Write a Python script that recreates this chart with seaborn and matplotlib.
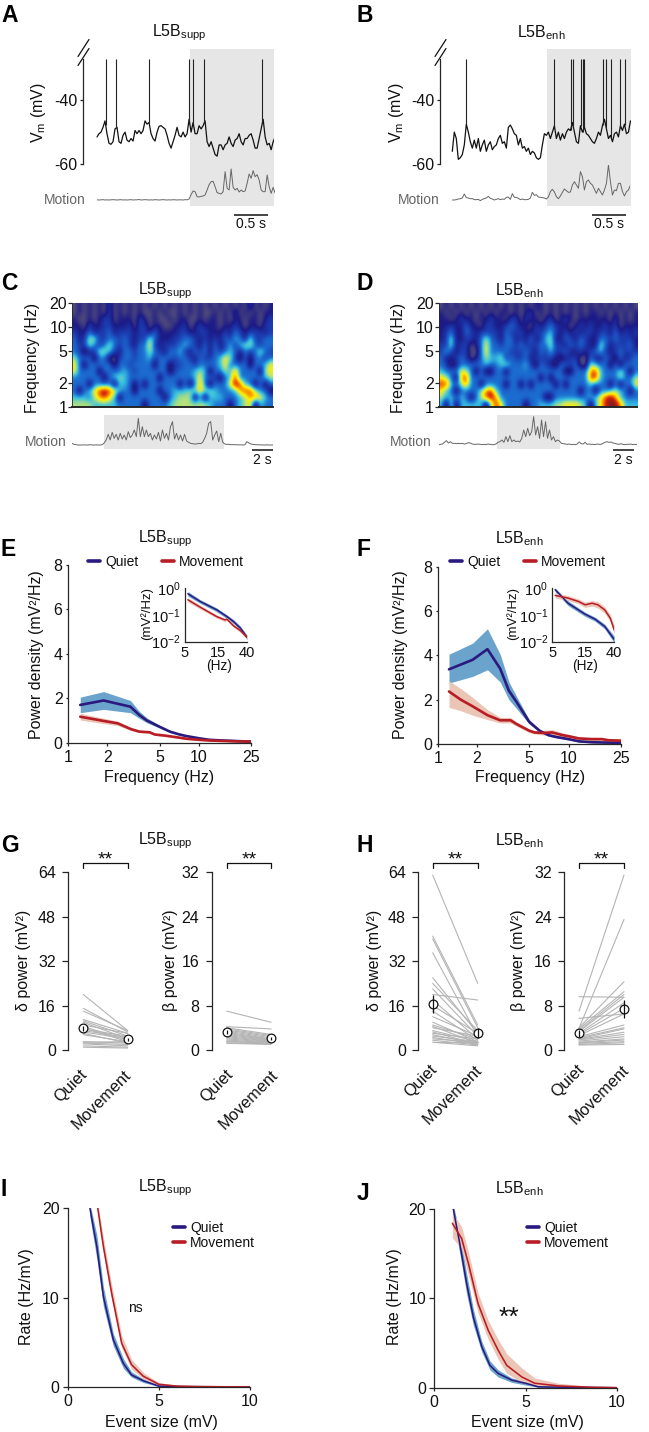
import numpy as np, pandas as pd
import matplotlib
matplotlib.use("Agg")
import matplotlib.pyplot as plt
import seaborn as sns
from matplotlib.lines import Line2D
from matplotlib.colors import LinearSegmentedColormap
from matplotlib.transforms import blended_transform_factory as blend, ScaledTranslation

# ---------------- data ----------------
vm_a = [-51.5,-50.5,-50,-48.5,-46.5,-50.5,-53.5,-53.8,-53,-49,-48.5,-53,-53.5,-51,-50,-52.5,-53,-52,-52.8,-49.5,-50.5,-49.5,-50.5,-49.5,-46.5,-47.5,-47,-50.5,-52,-52.8,-50,-48.2,-48,-48.5,-49,-51,-53.5,-55,-53,-51,-48.5,-51,-51.5,-50,-51.5,-50.5,-46,-50,-47,-50.5,-50.5,-48,-49,-48,-46.5,-53,-54.5,-53,-55,-57,-57.5,-54,-54,-55.5,-54,-53.5,-51.5,-53.5,-54.5,-52.5,-52,-50.5,-53,-54,-52,-52,-51,-50.5,-52.5,-55,-55,-52,-49,-46,-51.5,-54,-53.5,-55.5,-53,-51.5]
spikes_a = [0.127,0.275,0.76,1.348,1.417,1.578,2.431]
motion_a = [0.05,0,0.05,0.1,0,0.05,0,0.05,0.1,0.05,0,0.05,0.1,0,0.05,0,0.05,0.1,0,0.05,0.05,0.15,0,0.05,0.1,0.05,0,0.05,0,0.1,0.05,0,0.05,0.1,0.05,0,0.05,0,0.1,0.05,0,0.05,0.05,0,0.1,0.05,
            0.3,1.6,2.7,2.5,1.0,0.9,1.1,1.2,1.5,3.0,4.6,5.5,5.6,4.0,2.2,2.0,1.8,2.5,8.5,3.5,3.0,9.3,3.8,3.0,3.5,2.4,3,2.5,2.7,5,7.8,6.5,8.8,7,7.6,6,3,2.5,2.5,7.5,4,2,3.8,2.0]
vm_b = [-56,-50,-52,-58.5,-58,-57,-54,-47.5,-50,-53,-55,-52.5,-55,-52,-56,-54,-52.5,-56,-54,-53,-55.5,-54.5,-54,-52,-51,-53.5,-53,-55,-48.5,-47.8,-49,-50.5,-51,-54,-52,-55,-54.5,-56,-55,-57,-56,-56.5,-58,-58.5,-58,-54,-50.5,-51,-50,-52,-50,-48,-52,-50,-52.5,-50.5,-52,-50,-49,-49.5,-47,-50,-53,-53.5,-48,-50,-48.5,-50.5,-51,-52,-53,-53.5,-52,-50,-51,-48,-46,-49,-52,-51,-53,-50.5,-50,-51.5,-48,-49.5,-47.5,-50.5,-50,-46.5]
spikes_b = [0.206,1.495,1.74,1.78,1.887,1.917,1.941,2.211,2.265,2.338,2.466,2.534]
motion_b = [0,0,0.1,0.3,0.4,0.6,1.8,0.7,0.6,0.4,0.4,0.1,0.1,0.2,-0.2,0.2,0.4,0.6,1.1,0.5,0.3,0,0.2,0.4,0.1,0.3,0.2,0.8,0.9,0.2,1.9,0.8,0.8,0.5,0.1,0.3,0.1,0.1,0.2,0.6,2.3,1.4,1.6,0.9,0.8,0.7,0.6,0.3,0.9,2.5,3.2,2.4,1,0.4,1.2,2.3,3.3,2.8,2.3,2.4,4.5,5.5,4.5,3.5,8.5,7,3,5.5,6,5,4.5,3.2,2,3.5,2.5,1.5,3,5,10.5,5.5,1.5,3,2.8,5,5,2.5,1.2,2.5,3,4.5]
motion_c = [0.5,0.2,0.1,0,0,0,0.05,0,0,0.1,0,0,0.05,0,0,0.1,
            0.6,1.5,3.2,1.5,3.8,2.0,3.2,1.5,3.5,1.8,3.0,1.5,4.0,2.2,3.0,4.5,2.5,8.0,2.5,5.5,2.5,4.5,2.5,3.5,1.5,3.0,1.8,3.8,1.2,4.5,2.0,3.5,1.5,5.5,7.0,1.8,3.5,1.5,3.0,1.2,3.2,1.2,0.8,0.5,0.4,0.3,0.3,0.5,0.4,0.8,2.0,3.5,6.5,7.0,1.5,3.0,4.2,1.0,3.5,0.8,
            0.3,0.2,0.2,0.1,0.1,0.1,0.05,0.05,0.05,0.0,0.05,1.0,0.6,0.3,0.2,0.1,0.1,0.05,0.05,0,0,0.05,0,0,0]
motion_d = [0,0.2,0.3,0.8,1.3,0.6,1,0.5,0.5,0.4,0.5,0.4,0.5,0.3,0.4,0.7,0.6,0.3,0.2,0.2,0.3,0.2,0.1,0.2,0.1,0.3,0.2,0.1,0.1,0.3,
            0.8,1.0,1.5,0.8,2.5,1.0,2.8,1.0,1.5,1.0,1.2,0.9,2,4.5,2.5,5,2.8,4.0,8.5,3,5.5,2,7.5,2.5,7.0,2,4.5,1.5,2.5,1,1.5,1.2,0.5,
            0.4,0.3,0.2,0.3,0.1,0.2,0.1,0.3,0.9,0.4,0.3,0.8,0.2,0.3,0.2,0.2,0.1,0.3,0.2,0.2,0.5,0.8,1.0,0.8,0.9,0.6,0.5,0.3,0.2,0.4,0.2,0.1,0.2,0.2,0.3,0.1,0.2,0.1]

spec_c = ["0101010201 0101010101 0101010101 0101020101",
          "0101010201 0101001010 0101010010 1020101011",
          "1001012201 1102101001 0110010110 1011011012",
          "1102112211 1202201100 1120121110 1121011022",
          "2113122312 2212213111 1221122111 2132122212",
          "3125522332 3212253111 2233212121 3243152233",
          "3225323532 3213362122 2343213131 2424553233",
          "3201255421 3323353213 3421323132 3431323532",
          "5333033002 3323342333 2332132234 6520303323",
          "6303333303 3233330330 2233233334 6333303346",
          "6333303333 4323333330 2333454033 5473333056",
          "3333330345 4333333033 3333463320 3483333345",
          "3330333304 4303033333 3030373033 3698430303",
          "3034689864 3303333033 4445565543 3347885330",
          "4443578640 3333333303 4555040444 3334577643",
          "5555444443 3333033334 5555555433 3034560433"]
spec_d = ["0101010101 0101010101 1010101010 1010101010",
          "1010101010 1011010120 1010101010 1101010101",
          "1101211011 2110220211 0120121011 1111020101",
          "1121131102 2112321102 1232110121 2112120111",
          "1231132122 2213222112 2342121212 2122131212",
          "1251122135 3213312131 2451132132 1133232221",
          "2251220136 3323323222 3352213232 1153122231",
          "2421220036 3333222321 3242231121 2342123222",
          "3112320135 4452322312 2221012200 3113203123",
          "3201333334 3345333420 3210332300 5433030333",
          "4333653030 0330333333 3333300333 7843335303",
          "6530783333 3333333333 0303333333 8843335335",
          "8843573303 3330330303 3330303333 4333030336",
          "6430333357 8433333333 3333333303 3033454303",
          "5443430358 9733333333 3003333333 4468974333",
          "4050444440 5863333033 4445566654 0468997444"]
spec_ticks = [1, 2, 5, 10, 20]

f_e_q  = [1.24,1.87,3,3.5,4,5,6,7,8,10,12,15,20,25]
e_q    = [1.7,1.9,1.62,1.25,1.0,0.72,0.5,0.38,0.3,0.2,0.13,0.1,0.07,0.05]
e_q_lo = [1.35,1.5,1.35,1.1,0.9,0.66,0.46,0.35,0.27,0.18,0.11,0.08,0.05,0.03]
e_q_hi = [2.05,2.3,1.9,1.42,1.12,0.78,0.54,0.41,0.33,0.22,0.15,0.12,0.09,0.07]
f_e_m  = [1.24,1.87,2.4,3,3.5,4.2,4.6,5.5,6.5,8,10,12,15,20,25]
e_m    = [1.17,0.98,0.87,0.62,0.5,0.47,0.37,0.32,0.26,0.18,0.13,0.1,0.08,0.06,0.05]
e_m_lo = [1.02,0.86,0.77,0.55,0.45,0.42,0.33,0.28,0.22,0.14,0.1,0.08,0.06,0.04,0.03]
e_m_hi = [1.32,1.1,0.97,0.69,0.55,0.52,0.41,0.36,0.3,0.22,0.16,0.12,0.1,0.08,0.07]
f_f_q  = [1.22,1.85,2.4,3,3.5,4,5,6,7,8,10,12,15,25]
f_q    = [3.37,3.8,4.28,3.4,2.4,1.9,1.0,0.6,0.4,0.32,0.22,0.12,0.08,0.05]
f_q_lo = [2.75,3.05,3.35,2.8,2.0,1.6,0.9,0.55,0.36,0.28,0.18,0.09,0.05,0.02]
f_q_hi = [4.05,4.55,5.2,4.05,2.8,2.15,1.1,0.65,0.44,0.36,0.26,0.15,0.11,0.08]
f_f_m  = [1.22,1.5,1.85,2.4,3,3.6,4,5,5.5,6.5,7.5,9,10,12,15,18,20,25]
f_m    = [2.37,2.0,1.7,1.3,1.07,1.07,0.9,0.6,0.52,0.5,0.52,0.4,0.35,0.25,0.22,0.22,0.17,0.15]
f_m_lo = [1.65,1.5,1.3,1.1,0.95,0.95,0.8,0.52,0.45,0.4,0.4,0.3,0.27,0.18,0.14,0.14,0.1,0.08]
f_m_hi = [2.85,2.5,2.1,1.55,1.2,1.2,1.0,0.68,0.6,0.62,0.65,0.5,0.44,0.32,0.3,0.3,0.25,0.22]

ins_e_fq = [5.5,8.3,14.5,20.4,25.5,32,40]
ins_e_q  = [0.61,0.316,0.154,0.086,0.056,0.032,0.0146]
ins_e_ql = [0.5,0.27,0.13,0.072,0.047,0.027,0.012]
ins_e_qh = [0.74,0.37,0.18,0.1,0.066,0.038,0.018]
ins_e_fm = [5.5,8.3,14.5,19,20.4,25.5,32,40]
ins_e_m  = [0.365,0.194,0.086,0.065,0.069,0.039,0.026,0.0146]
ins_e_ml = [0.3,0.165,0.075,0.056,0.06,0.034,0.022,0.012]
ins_e_mh = [0.44,0.23,0.1,0.075,0.08,0.045,0.03,0.018]
ins_f_fq = [5.5,8.5,15,21,29,40]
ins_f_q  = [0.87,0.27,0.106,0.069,0.037,0.012]
ins_f_ql = [0.72,0.22,0.088,0.058,0.03,0.009]
ins_f_qh = [1.0,0.33,0.125,0.082,0.045,0.016]
ins_f_fm = [5.5,8.5,12,15,19,23,29,35,40]
ins_f_m  = [0.53,0.42,0.316,0.237,0.27,0.237,0.154,0.075,0.027]
ins_f_ml = [0.42,0.34,0.26,0.19,0.21,0.18,0.115,0.055,0.019]
ins_f_mh = [0.66,0.52,0.39,0.3,0.34,0.31,0.2,0.1,0.04]

categories = ["Quiet", "Movement"]
g_d_q = [20,15,14,11,10.5,10,9,8.5,8,7.5,7,6.5,6,5.5,3,2.8,2.5,2.2,1.5,1]
g_d_m = [7,6.5,7,6,5,4,6,3.5,3,5,4.5,4,2.5,3,2.5,3,2,1.5,1,0.7]
g_b_q = [7,4.2,4,3.8,3.6,3.4,3.2,3,2.8,2.6,2.4,2.2,2,1.8,1.6,1.5,1.3,1.2]
g_b_m = [5,3.8,2.8,2.6,2.4,2.2,2,1.9,1.8,1.7,1.6,1.5,1.4,1.3,1.2,1.2,1.1,1.0]
h_d_q = [63,41,40,35,26,24,22,20,18,16,14,12,10,9,8.5,8,7,6.5,6,5.5,5,4.5,4,3.5,3,2.8]
h_d_m = [24,9,8,5,6,7,5,18,4,6,3.5,5,3,4,2.5,5,3,2,4,2.2,3,2,2.8,1.8,3,1.5]
h_b_q = [7,3.9,9.6,5.7,4,3.8,3.5,3.3,3,2.8,2.6,2.4,2.2,2,1.9,1.8,1.6,1.4,1.3,1.2,1,0.9]
h_b_m = [31.5,23.5,9.5,6.5,12.3,10.5,10,9.5,8.5,7.5,6.5,4.5,4,3.8,3.2,2.8,2.4,2,1.8,1.5,1.3,1.0]
mean_g_d, err_g_d = [7.9,3.9], [0.9,0.5]
mean_g_b, err_g_b = [3.2,2.1], [0.4,0.3]
mean_h_d, err_h_d = [16.5,6.3], [3.2,1.8]
mean_h_b, err_h_b = [3.0,7.4], [0.6,1.6]

i_xq = [1.22,1.6,1.96,2.5,3.05,3.5,4.15,5,6,10]
i_q  = [20,15.7,10.1,5.3,2.65,1.35,0.7,0.1,0.05,0]
i_ql = [19,14.3,9,4.6,2.1,1.1,0.5,0.05,0.02,0]
i_qh = [20.5,17,11.2,6,3.2,1.7,0.9,0.2,0.08,0]
i_xm = [1.65,1.96,2.41,2.96,3.5,4.15,5,6,7,10]
i_m  = [20,15.7,10.5,4.9,2.5,1.2,0.3,0.1,0.05,0]
i_ml = [19.5,15,9.8,4.4,2,0.9,0.2,0.05,0.02,0]
i_mh = [20.5,16.7,11.5,5.8,3.1,1.6,0.5,0.18,0.08,0]
j_xq = [1.04,1.4,1.77,2.14,2.6,3.05,3.5,4.24,5,5.7,7,10]
j_q  = [20,16.1,11.7,7.9,4.6,2.5,1.6,0.85,0.5,0.1,0.05,0]
j_ql = [19,15,10.5,7,4,2,1.2,0.6,0.3,0.05,0.02,0]
j_qh = [20.5,17.2,12.8,8.8,5.2,3,2,1.1,0.7,0.2,0.08,0]
j_xm = [0.99,1.5,1.87,2.4,2.96,3.5,3.97,4.8,5.5,6.8,8.6,10]
j_m  = [18.4,16.7,13.9,9.4,6.4,4.2,2.5,1.2,0.5,0.2,0.05,0]
j_ml = [16.8,15.5,12.6,8.4,5.4,3.2,1.6,0.6,0.2,0.05,0.01,0]
j_mh = [19.6,18,15.2,10.6,7.5,5.4,3.8,2.2,1.1,0.5,0.15,0]

# ---------------- style ----------------
W, H = 649, 1432
sns.set_theme(style="ticks", rc={
    "axes.linewidth": 0.9, "xtick.major.width": 0.9, "ytick.major.width": 0.9,
    "xtick.major.size": 2, "ytick.major.size": 4, "xtick.major.pad": 3, "ytick.major.pad": 2,
    "xtick.labelsize": 11.5, "ytick.labelsize": 11.5, "axes.labelsize": 11.5,
    "axes.unicode_minus": False, "text.color": "#111111", "xtick.labelcolor": "#111111",
    "ytick.labelcolor": "#111111", "axes.labelcolor": "#111111",
    "mathtext.fontset": "custom", "mathtext.rm": "Liberation Sans",
    "mathtext.it": "Liberation Sans", "mathtext.bf": "Liberation Sans:bold",
    "xtick.minor.size": 0, "ytick.minor.size": 0, "xtick.minor.visible": False})
plt.rcParams["font.family"] = ["Liberation Sans", "DejaVu Sans"]

NAVY, BLUE, RED, PINK, GRAY = "#2a1a80", "#6aa3cc", "#b81c24", "#ebc5b6", "#b4b4b4"
SHADE, MOTION = "#e6e6e6", "#666666"
SUPP, ENH = r"L5B$_{\mathrm{supp}}$", r"L5B$_{\mathrm{enh}}$"

fig = plt.figure(figsize=(W/100, H/100), dpi=100)

def axpx(l, t, r, b, **kw):
    return fig.add_axes([l/W, 1-b/H, (r-l)/W, (b-t)/H], **kw)

def ftext(x, y, s, **kw):
    kw.setdefault("ha", "center"); kw.setdefault("va", "center")
    return fig.text(x/W, 1-y/H, s, **kw)

def ylab(ax, s, x, y, **kw):
    ax.set_ylabel(s, va="center", **kw)
    ax.yaxis.set_label_coords(x/W, 1-y/H, transform=fig.transFigure)

def xlab(ax, s, x, y, **kw):
    ax.set_xlabel(s, va="center", **kw)
    ax.xaxis.set_label_coords(x/W, 1-y/H, transform=fig.transFigure)

def sbar(ax, t0, t1, ypx, label, ylabel):
    tr = blend(ax.transData, fig.transFigure)
    ax.plot([t0, t1], [1-ypx/H]*2, color="#111111", lw=1.1, transform=tr, clip_on=False, solid_capstyle="butt")
    ax.text((t0+t1)/2, 1-ylabel/H, label, transform=tr, ha="center", va="center", fontsize=10)

for s, x, y in [("A",1,15),("B",357,15),("C",1,283),("D",357,283),("E",1,549),("F",357,549),
                ("G",1,846),("H",357,846),("I",1,1189),("J",357,1194)]:
    ftext(x, y, s, ha="left", fontsize=16.5, fontweight="bold", color="black")
for s, x, y in [(SUPP,179,33),(ENH,541,33),(SUPP,165.7,291),(ENH,519,291),(SUPP,165.7,539),(ENH,519,539),
                (SUPP,165.7,841),(ENH,519,841),(SUPP,165.7,1188),(ENH,519,1189)]:
    ftext(x, y, s, fontsize=11.5)

# ---------------- A, B ----------------
def vm_panel(l, r, t0, vm, spikes, motion, tshade, dur, sb, ylx, motx):
    ax = axpx(l, 49, r, 206)
    ax.set_xlim((l-t0)/68, (r-t0)/68)
    ax.set_ylim(-73.06, -24.06)
    ax.axvspan(tshade, ax.get_xlim()[1], color=SHADE, lw=0, zorder=0)
    t = np.linspace(0, dur, len(vm))
    sns.lineplot(x=t, y=vm, color="#111111", lw=0.9, sort=False, errorbar=None, ax=ax)
    ax.vlines(spikes, np.interp(spikes, t, vm), -27.2, color="#222222", lw=0.8)
    sns.despine(ax=ax, bottom=True)
    ax.spines["left"].set_bounds(-60, -27.2)
    ax.set_xticks([]); ax.set_yticks([-40, -60], ["-40", "-60"])
    ax.tick_params(axis="y", length=2.2, pad=1.5)
    ax.patch.set_alpha(0)
    ylab(ax, r"V$_{\mathrm{m}}$ (mV)", ylx, 113)
    mx = axpx(t0, 165, t0+dur*68, 206)
    mx.axis("off"); mx.set_ylim(-1.8, 10.5); mx.set_xlim(0, dur)
    sns.lineplot(x=np.linspace(0, dur, len(motion)), y=motion, color=MOTION, lw=0.7, sort=False, errorbar=None, ax=mx)
    ftext(motx, 200, "Motion", ha="right", fontsize=10, color=MOTION)
    sbar(ax, sb, sb+0.5, 215, "0.5 s", 224.5)
    for dy in (0, 9):
        fig.add_artist(Line2D([(l-5)/W, (l+6)/W], [1-(56.5+dy)/H, 1-(39.5+dy)/H], color="#111111", lw=0.9))

vm_panel(83, 274, 97, vm_a, spikes_a, motion_a, 1.37, 2.62, 2.02, 39, 86)
vm_panel(440, 631, 452.3, vm_b, spikes_b, motion_b, 1.39, 2.62, 2.05, 397, 440)

# ---------------- C, D ----------------
spec_cmap = LinearSegmentedColormap.from_list("spec", ["#55507a","#1c1a88","#1b3cb0","#1b6cd0","#38c0e0","#b4e27a","#fff000","#f89000","#d82010","#7a2020"])

def spec_panel(l, r, rows, motion, s0, s1, sb, ylx, motx):
    T = (r-l)/10.5
    mat = np.array([[int(c) for c in row.replace(" ", "")] for row in rows], float)
    ax = axpx(l, 303, r, 407)
    ax.imshow(mat, cmap=spec_cmap, vmin=0, vmax=9, interpolation="bicubic", aspect="auto",
              origin="upper", extent=(0, T, 0, np.log2(20)))
    ax.set_yticks(np.log2(spec_ticks), [str(v) for v in spec_ticks]); ax.set_xticks([])
    ax.tick_params(axis="y", length=3, pad=0.5)
    for s in ("top", "right"):
        ax.spines[s].set_visible(False)
    ax.spines["bottom"].set_linewidth(1.4); ax.spines["left"].set_linewidth(0.6)
    ylab(ax, "Frequency (Hz)", ylx, 358)
    mx = axpx(l, 415, r, 449)
    mx.axis("off"); mx.set_xlim(0, T); mx.set_ylim(-1.2, 9)
    mx.axvspan(s0, s1, color=SHADE, lw=0, zorder=0)
    sns.lineplot(x=np.linspace(0, T, len(motion)), y=motion, color=MOTION, lw=0.7, sort=False, errorbar=None, ax=mx)
    ftext(motx, 442, "Motion", ha="right", fontsize=10, color=MOTION)
    sbar(mx, sb, sb+2, 450, "2 s", 460)

spec_panel(72, 273, spec_c, motion_c, 3.05, 14.45, 17.1, 33, 67)
spec_panel(438.5, 636.7, spec_d, motion_d, 5.57, 11.6, 16.6, 399, 432)

# ---------------- E, F ----------------
def band(ax, x, lo, hi, c):
    ax.fill_between(x, lo, hi, color=c, lw=0)

def curves(ax, xq, q, ql, qh, xm, m, ml, mh, lw):
    band(ax, xq, ql, qh, BLUE)
    band(ax, xm, ml, mh, PINK)
    sns.lineplot(x=xq, y=q, color=NAVY, lw=lw, sort=False, errorbar=None, ax=ax)
    sns.lineplot(x=xm, y=m, color=RED, lw=lw, sort=False, errorbar=None, ax=ax)

def legend(ax, x, y, ncol, col=1.7):
    hs = [Line2D([], [], color=NAVY, lw=2.6), Line2D([], [], color=RED, lw=2.6)]
    ax.legend(hs, categories, ncol=ncol, frameon=False, loc="center left", fontsize=10,
              bbox_to_anchor=(x/W, 1-y/H), bbox_transform=fig.transFigure, borderpad=0, borderaxespad=0,
              handlelength=0.88, handletextpad=0.35, columnspacing=col, labelspacing=0.12)

def psd_panel(l, r, t, b, data, ylx, xlx, legx):
    ax = axpx(l, t, r, b)
    curves(ax, *data, lw=1.9)
    ax.set_xscale("log"); ax.set_xlim(1, 25); ax.set_ylim(0, 8)
    ax.set_xticks([1, 2, 5, 10, 25], ["1", "2", "5", "10", "25"]); ax.minorticks_off()
    ax.set_yticks([0, 2, 4, 6, 8])
    ax.tick_params(axis="y", length=1.5, pad=2.4)
    sns.despine(ax=ax)
    ax.patch.set_alpha(0)
    ylab(ax, "Power density (mV²/Hz)", ylx, 655)
    xlab(ax, "Frequency (Hz)", xlx, 777)
    legend(ax, legx, 561.5, 2)

def inset(l, r, data, ylx, xlx):
    ax = axpx(l, 588, r, 641.7)
    curves(ax, *data, lw=1.1)
    ax.set_xscale("log"); ax.set_yscale("log")
    ax.set_xlim(5, 40); ax.set_ylim(0.01, 1)
    ax.set_xticks([5, 15, 40], ["5", "15", "40"]); ax.minorticks_off()
    ax.set_yticks([0.01, 0.1, 1], ["$10^{-2}$", "$10^{-1}$", "$10^{0}$"])
    ax.tick_params(length=0, labelsize=10.5, pad=3)
    sns.despine(ax=ax)
    ax.patch.set_alpha(0)
    ylab(ax, "(mV²/Hz)", ylx, 613, fontsize=9.5)
    xlab(ax, "(Hz)", xlx, 666, fontsize=9.8)

psd_panel(68, 251, 565, 742.7, (f_e_q,e_q,e_q_lo,e_q_hi,f_e_m,e_m,e_m_lo,e_m_hi), 37, 158.7, 88)
psd_panel(437.7, 620.7, 566.7, 744, (f_f_q,f_q,f_q_lo,f_q_hi,f_f_m,f_m,f_m_lo,f_m_hi), 401, 530, 450)
inset(185, 247, (ins_e_fq,ins_e_q,ins_e_ql,ins_e_qh,ins_e_fm,ins_e_m,ins_e_ml,ins_e_mh), 147, 218.7)
inset(552.3, 614.3, (ins_f_fq,ins_f_q,ins_f_ql,ins_f_qh,ins_f_fm,ins_f_m,ins_f_ml,ins_f_mh), 513, 585)

# ---------------- G, H ----------------
def pair_panel(spine, qx, mx_, q, m, mean, err, ymax, ticks, label, ylx, dx, dy):
    step = mx_ - qx
    right = mx_ + 8
    ax = axpx(spine, 872.3, right, 1050)
    ax.set_xlim((spine-qx)/step, (right-qx)/step); ax.set_ylim(0, ymax)
    df = pd.DataFrame({"id": list(range(len(q)))*2, "x": [0]*len(q)+[1]*len(m), "y": list(q)+list(m)})
    sns.lineplot(data=df, x="x", y="y", units="id", estimator=None, color=GRAY, lw=0.8, ax=ax, clip_on=False)
    ax.plot([0, 1], mean, ls="none", marker="o", ms=6.3, mfc="white", mec="#111111", mew=0.9, clip_on=False, zorder=5)
    ax.vlines([0, 1], np.array(mean)-err, np.array(mean)+err, color="#111111", lw=0.9, zorder=6)
    ax.set_xticks([0, 1], categories, rotation=45, ha="right", rotation_mode="anchor", fontsize=11.8)
    ax.tick_params(axis="x", length=0, pad=10)
    off = ScaledTranslation(dx/100, -dy/100, fig.dpi_scale_trans)
    for lab in ax.get_xticklabels():
        lab.set_transform(lab.get_transform() + off)
    ax.set_yticks(ticks)
    ax.tick_params(axis="y", length=4, pad=5)
    ax.set_xlabel("")
    sns.despine(ax=ax, bottom=True)
    ax.patch.set_alpha(0)
    ylab(ax, label, ylx, 960)
    tr = ax.get_xaxis_transform()
    ax.plot([0, 0, 1, 1], [1.024, 1.052, 1.052, 1.024], color="#111111", lw=0.9, transform=tr, clip_on=False)
    ax.text(0.5, 1.068, "**", transform=tr, ha="center", va="center", fontsize=14)

d_t, b_t = [0, 16, 32, 48, 64], [0, 8, 16, 24, 32]
pair_panel(68.3, 83.3, 127.7, g_d_q, g_d_m, mean_g_d, err_g_d, 64, d_t, "δ power (mV²)", 23.3, -4, 3)
pair_panel(211.7, 226.7, 271, g_b_q, g_b_m, mean_g_b, err_g_b, 32, b_t, "β power (mV²)", 170, -1, 3)
pair_panel(418.3, 432.7, 477.7, h_d_q, h_d_m, mean_h_d, err_h_d, 64, d_t, "δ power (mV²)", 374, -3, -2)
pair_panel(564.3, 579, 624, h_b_q, h_b_m, mean_h_b, err_h_b, 32, b_t, "β power (mV²)", 518, -3, -2)

# ---------------- I, J ----------------
def rate_panel(l, r, t, b, data, ylx, xlx, legx, note, nx, ny, nfs):
    ax = axpx(l, t, r, b)
    curves(ax, *data, lw=1.15)
    ax.set_xlim(0, 10); ax.set_ylim(0, 20)
    ax.set_xticks([0, 5, 10]); ax.set_yticks([0, 10, 20])
    ax.tick_params(axis="y", length=3.6, pad=2.2)
    sns.despine(ax=ax)
    ax.patch.set_alpha(0)
    ylab(ax, "Rate (Hz/mV)", ylx, 1297)
    xlab(ax, "Event size (mV)", xlx, 1422.5)
    legend(ax, legx, 1235.5, 1)
    ftext(nx, ny, note, fontsize=nfs)

rate_panel(67.7, 250, 1208.3, 1387, (i_xq,i_q,i_ql,i_qh,i_xm,i_m,i_ml,i_mh), 27, 161, 173, "ns", 135, 1308, 10)
rate_panel(434.3, 616.7, 1209, 1387.7, (j_xq,j_q,j_ql,j_qh,j_xm,j_m,j_ml,j_mh), 395, 527, 527, "**", 508.5, 1318, 19)

fig.savefig("out.png", dpi=100)
